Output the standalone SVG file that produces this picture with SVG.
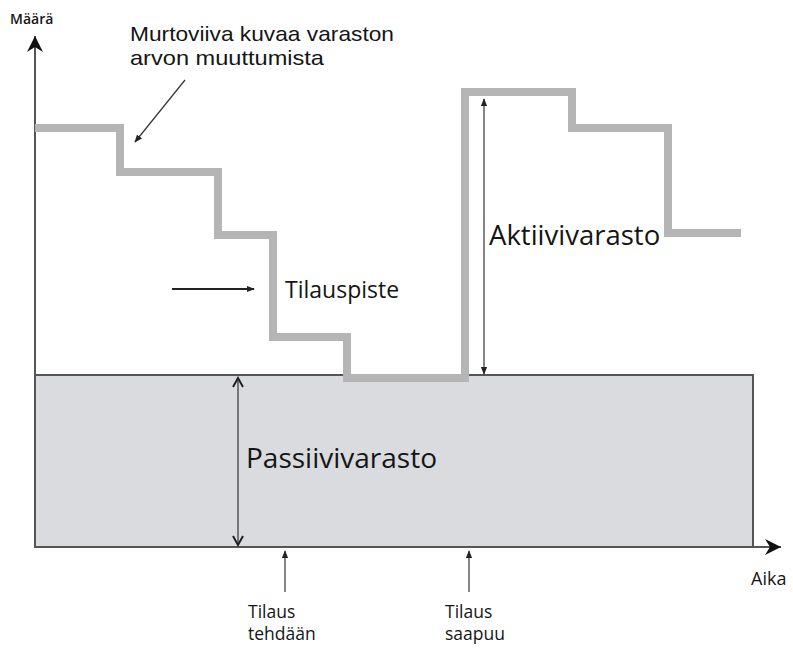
<svg xmlns="http://www.w3.org/2000/svg" width="793" height="652" viewBox="0 0 793 652">
<defs>
<style>
text{font-family:"Open Sans","Liberation Sans",sans-serif;fill:#151515}
.thin{stroke:#333;stroke-width:1.2;fill:none}
.step{stroke:#b5b5b5;stroke-width:8;fill:none;stroke-linejoin:miter}
</style>
<marker id="chev" viewBox="0 0 12 12" refX="10" refY="6" markerWidth="12" markerHeight="12" markerUnits="userSpaceOnUse" orient="auto-start-reverse">
<path d="M1,1 L10,6 L1,11" fill="none" stroke="#222" stroke-width="2"/>
</marker>
<marker id="tri" viewBox="0 0 10 10" refX="9" refY="5" markerWidth="8" markerHeight="8" markerUnits="userSpaceOnUse" orient="auto-start-reverse">
<path d="M0,1 L10,5 L0,9 z" fill="#222"/>
</marker>
<marker id="big" viewBox="0 0 20 20" refX="18" refY="10" markerWidth="20" markerHeight="20" markerUnits="userSpaceOnUse" orient="auto">
<path d="M2,2 L18,10 L2,18 L7,10 z" fill="#111"/>
</marker>
</defs>
<rect width="793" height="652" fill="#fff"/>
<g id="passive-area">
<rect x="35" y="375" width="718" height="172" fill="#d9dbde" stroke="#555" stroke-width="2"/>
</g>
<g id="axes">
<line x1="35" y1="548" x2="35" y2="36" stroke="#555" stroke-width="2" marker-end="url(#big)"/>
<line x1="35" y1="547" x2="781" y2="547" stroke="#555" stroke-width="2" marker-end="url(#big)"/>
<text x="10" y="24" font-size="14" font-weight="600">Määrä</text>
<text x="751" y="585" font-size="18">Aika</text>
</g>
<g id="stock-line">
<path class="step" d="M35,128 H120 V172 H218 V235 H273 V337 H347 V378 H465 V92 H572 V128 H668 V233 H741"/>
</g>
<g id="connectors">
<line class="thin" x1="185" y1="80" x2="135" y2="142" marker-end="url(#tri)"/>
<line x1="172" y1="289" x2="254" y2="289" stroke="#222" stroke-width="2" marker-end="url(#tri)"/>
<line class="thin" x1="238" y1="378" x2="238" y2="545" marker-start="url(#chev)" marker-end="url(#chev)"/>
<line class="thin" x1="484" y1="99" x2="484" y2="374" marker-start="url(#tri)" marker-end="url(#tri)"/>
<line class="thin" x1="285" y1="592" x2="285" y2="551" marker-end="url(#tri)"/>
<line class="thin" x1="469" y1="592" x2="469" y2="551" marker-end="url(#tri)"/>
</g>
<g id="label-murtoviiva" style="font-family:'Liberation Sans',Arial,sans-serif">
<text x="130" y="41" font-size="21" style="font-family:'Liberation Sans',Arial,sans-serif" textLength="264" lengthAdjust="spacingAndGlyphs">Murtoviiva kuvaa varaston</text>
<text x="130" y="65" font-size="21" style="font-family:'Liberation Sans',Arial,sans-serif" textLength="194" lengthAdjust="spacingAndGlyphs">arvon muuttumista</text>
</g>
<g id="label-tilauspiste"><text x="285" y="298" font-size="23">Tilauspiste</text></g>
<g id="label-aktiivi"><text x="489" y="245" font-size="27.5">Aktiivivarasto</text></g>
<g id="label-passiivi"><text x="246" y="468" font-size="28">Passiivivarasto</text></g>
<g id="label-tehdaan">
<text font-size="17.5"><tspan x="248" y="618">Tilaus</tspan><tspan x="248" y="640">tehdään</tspan></text>
</g>
<g id="label-saapuu">
<text font-size="17.5"><tspan x="445" y="618">Tilaus</tspan><tspan x="445" y="640">saapuu</tspan></text>
</g>
</svg>
